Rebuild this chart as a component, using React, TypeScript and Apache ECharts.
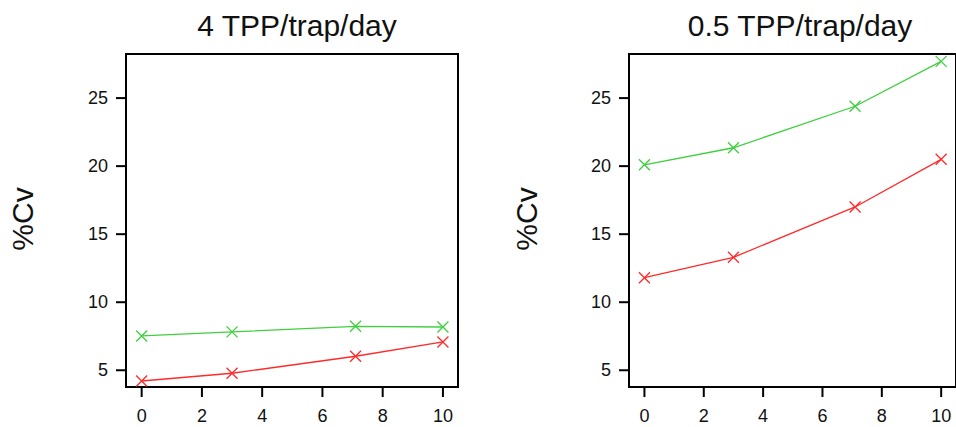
import React, { useEffect, useRef } from "react";
import * as echarts from "echarts";

const xValues = [0, 3, 7.1, 10];
const highLeft = [7.52, 7.82, 8.23, 8.18];
const lowLeft = [4.21, 4.78, 6.03, 7.08];
const highRight = [20.1, 21.35, 24.4, 27.7];
const lowRight = [11.8, 13.3, 17.0, 20.5];
const titles = ["4 TPP/trap/day", "0.5 TPP/trap/day"];
const yTicks = [5, 10, 15, 20, 25];
const xTicks = [0, 2, 4, 6, 8, 10];
const yName = "%Cv";

const X_MIN = -0.52;
const X_MAX = 10.5;
const Y_MIN = 3.77;
const Y_MAX = 28.24;

const GREEN = "#3fcf3f";
const RED = "#ff2a2a";
const FONT = "'Liberation Sans', Arial, sans-serif";
const CROSS = "path://M0,0L10,10M10,0L0,10";
const TICK = 10;

export default function App() {
  const ref = useRef<HTMLDivElement>(null);
  useEffect(() => {
    document.body.style.margin = "0";
    const chart = echarts.init(ref.current!, null, { renderer: "svg" });
    const grids = [
      { left: 126, top: 54, width: 332, height: 333 },
      { left: 629, top: 54, width: 332, height: 333 },
    ].map((g) => ({
      ...g,
      show: true,
      borderColor: "#000",
      borderWidth: 2,
      backgroundColor: "transparent",
    }));
    const xAxis = [0, 1].map((i) => ({
      type: "value",
      gridIndex: i,
      position: "bottom",
      min: X_MIN,
      max: X_MAX,
      splitLine: { show: false },
      axisLine: { show: true, onZero: false, lineStyle: { color: "#000", width: 2 } },
      axisTick: { show: false },
      axisLabel: { show: false },
    }));
    const yAxis = [0, 1].map((i) => ({
      type: "value",
      gridIndex: i,
      position: "left",
      min: Y_MIN,
      max: Y_MAX,
      splitLine: { show: false },
      axisLine: { show: true, onZero: false, lineStyle: { color: "#000", width: 2 } },
      axisTick: { show: false },
      axisLabel: { show: false },
    }));
    const mk = (vals: number[], color: string, idx: number) => ({
      type: "line",
      xAxisIndex: idx,
      yAxisIndex: idx,
      data: xValues.map((x, k) => [x, vals[k]]),
      symbol: CROSS,
      symbolSize: 11,
      showSymbol: true,
      lineStyle: { color, width: 1.3 },
      itemStyle: { color: "none", borderColor: color, borderWidth: 1.3 },
      emphasis: { disabled: true },
    });
    const tickSeries = (idx: number, dir: "x" | "y") => ({
      type: "custom",
      xAxisIndex: idx,
      yAxisIndex: idx,
      clip: false,
      silent: true,
      data: dir === "x" ? xTicks.map((v) => [v, Y_MIN]) : yTicks.map((v) => [X_MIN, v]),
      encode: { x: 0, y: 1 },
      renderItem: (params: any, api: any) => {
        const p = api.coord([api.value(0), api.value(1)]);
        const label = String(dir === "x" ? api.value(0) : api.value(1));
        const textStyle = { fontSize: 18, fontFamily: FONT, fill: "#111", text: label };
        if (dir === "x") {
          return {
            type: "group",
            children: [
              { type: "rect", shape: { x: p[0] - 1, y: p[1], width: 2, height: TICK }, style: { fill: "#000" } },
              { type: "text", x: p[0], y: p[1] + 29, style: { ...textStyle, align: "center", verticalAlign: "middle" } },
            ],
          };
        }
        return {
          type: "group",
          children: [
            { type: "rect", shape: { x: p[0] - TICK, y: p[1] - 1, width: TICK, height: 2 }, style: { fill: "#000" } },
            { type: "text", x: p[0] - 18, y: p[1], style: { ...textStyle, align: "right", verticalAlign: "middle" } },
          ],
        };
      },
    });
    chart.setOption({
      animation: false,
      grid: grids,
      xAxis,
      yAxis,
      title: [
        { text: titles[0], left: 292, top: 5, textAlign: "center", textStyle: { fontSize: 30, fontWeight: "normal", color: "#111", fontFamily: FONT } },
        { text: titles[1], left: 795, top: 5, textAlign: "center", textStyle: { fontSize: 30, fontWeight: "normal", color: "#111", fontFamily: FONT } },
      ],
      graphic: [
        { type: "text", x: 22, y: 219, rotation: Math.PI / 2, style: { text: yName, fontSize: 30, fontFamily: FONT, fill: "#111", align: "center", verticalAlign: "middle" } },
        { type: "text", x: 526, y: 219, rotation: Math.PI / 2, style: { text: yName, fontSize: 30, fontFamily: FONT, fill: "#111", align: "center", verticalAlign: "middle" } },
      ],
      series: [
        tickSeries(0, "x"),
        tickSeries(0, "y"),
        tickSeries(1, "x"),
        tickSeries(1, "y"),
        mk(highLeft, GREEN, 0),
        mk(lowLeft, RED, 0),
        mk(highRight, GREEN, 1),
        mk(lowRight, RED, 1),
      ],
    });
    return () => chart.dispose();
  }, []);
  return <div ref={ref} style={{ width: 956, height: 427, background: "#fff" }} />;
}
